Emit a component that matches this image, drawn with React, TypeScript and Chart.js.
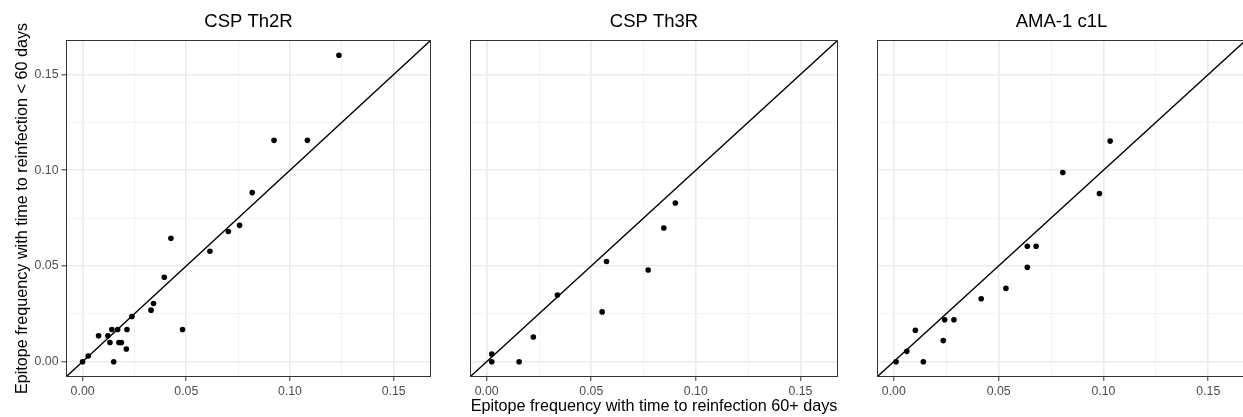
import React, { useEffect, useRef } from "react";
import { Chart, registerables } from "chart.js";

Chart.register(...registerables);

// ---------- data ----------
const PANEL_TITLES = ["CSP Th2R", "CSP Th3R", "AMA-1 c1L"];

const th2rX = [0.1236, 0.0923, 0.1084, 0.0818, 0.0757, 0.0703, 0.0614, 0.0426, 0.0394, 0.0342, 0.033, 0.0238, 0.0482, 0.0214, 0.0169, 0.0141, 0.0077, 0.0122, 0.0132, 0.0175, 0.0187, 0.0211, 0.015, 0.0027, 0.0];
const th2rY = [0.16, 0.1156, 0.1156, 0.0883, 0.0712, 0.068, 0.0577, 0.0645, 0.0441, 0.0304, 0.0269, 0.0236, 0.0168, 0.0168, 0.0168, 0.0168, 0.0135, 0.0135, 0.01, 0.01, 0.01, 0.0066, 0.0, 0.003, 0.0];

const th3rX = [0.0024, 0.0024, 0.0155, 0.0223, 0.0338, 0.0552, 0.0573, 0.0772, 0.0847, 0.0902];
const th3rY = [0.004, 0.0, 0.0, 0.0129, 0.0348, 0.026, 0.0523, 0.0479, 0.0698, 0.0829];

const ama1X = [0.0011, 0.0062, 0.0103, 0.0141, 0.0236, 0.0243, 0.0287, 0.0417, 0.0535, 0.0637, 0.0637, 0.0679, 0.0806, 0.0981, 0.1032];
const ama1Y = [0.0, 0.0054, 0.0164, 0.0, 0.011, 0.0219, 0.0219, 0.0329, 0.0383, 0.0493, 0.0603, 0.0603, 0.0988, 0.0878, 0.1152];

const MAJOR_TICKS = [0, 0.05, 0.1, 0.15];
const MINOR_TICKS = [0.025, 0.075, 0.125];
const AXIS_MIN = -0.008;
const AXIS_MAX = 0.168;
const IDENTITY_LINE = [AXIS_MIN, AXIS_MAX];

const X_TITLE = "Epitope frequency with time to reinfection 60+ days";
const Y_TITLE = "Epitope frequency with time to reinfection < 60 days";

// ---------- styling / layout ----------
const FONT = "'Liberation Sans', Arial, Helvetica, sans-serif";
const W = 1243;
const H = 417;
const TOP = 40;
const X_AXIS_H = 40;

const PANELS = [
  { title: PANEL_TITLES[0], xs: th2rX, ys: th2rY, left: 0, width: 440, padL: 0, yW: 66, padR: 9, yAxis: true, xTitle: false },
  { title: PANEL_TITLES[1], xs: th3rX, ys: th3rY, left: 440, width: 420, padL: 30, yW: 0, padR: 22, yAxis: false, xTitle: true },
  { title: PANEL_TITLES[2], xs: ama1X, ys: ama1Y, left: 860, width: 400, padL: 17, yW: 0, padR: 14, yAxis: false, xTitle: false },
];

const ALL_TICKS = [...MAJOR_TICKS, ...MINOR_TICKS].sort((a, b) => a - b);
const isMajor = (v: number) => MAJOR_TICKS.some((m) => Math.abs(m - v) < 1e-9);

const decorPlugin = {
  id: "panelDecor",
  afterDraw(chart: any, _args: any, opts: any) {
    const { ctx, chartArea: a } = chart;
    ctx.save();
    ctx.strokeStyle = "#333333";
    ctx.lineWidth = 1;
    const l = Math.round(a.left) + 0.5;
    const t = Math.round(a.top) + 0.5;
    const r = Math.round(a.right) - 0.5;
    const b = Math.round(a.bottom) - 0.5;
    ctx.strokeRect(l, t, r - l, b - t);

    ctx.fillStyle = "#000000";
    ctx.textAlign = "center";
    ctx.textBaseline = "middle";
    ctx.font = `18.5px ${FONT}`;
    ctx.fillText(opts.title, (a.left + a.right) / 2, 22);

    ctx.font = `16.2px ${FONT}`;
    if (opts.xTitle) {
      ctx.fillText(X_TITLE, (a.left + a.right) / 2, 407);
    }
    if (opts.yTitle) {
      ctx.translate(23, (a.top + a.bottom) / 2);
      ctx.rotate(-Math.PI / 2);
      ctx.fillText(Y_TITLE, 0, 0);
    }
    ctx.restore();
  },
};

function Panel({ p }: { p: (typeof PANELS)[number] }) {
  const ref = useRef<HTMLCanvasElement | null>(null);
  useEffect(() => {
    if (!ref.current) return;
    const points = p.xs.map((x, i) => ({ x, y: p.ys[i] }));
    const line = IDENTITY_LINE.map((v) => ({ x: v, y: v }));
    const gridColor = (c: any) => (c.tick && isMajor(c.tick.value) ? "#ebebeb" : "#f3f3f3");
    const gridWidth = (c: any) => (c.tick && isMajor(c.tick.value) ? 1.6 : 1);
    const tickColor = (c: any) => (c.tick && isMajor(c.tick.value) ? "#333333" : "rgba(0,0,0,0)");
    const tickFont = { family: FONT, size: 12.3 };
    const chart = new Chart(ref.current, {
      type: "scatter",
      data: {
        datasets: [
          {
            data: points,
            backgroundColor: "#000000",
            borderWidth: 0,
            pointRadius: 2.8,
            order: 0,
          },
          {
            type: "line",
            data: line,
            borderColor: "#000000",
            borderWidth: 1.3,
            pointRadius: 0,
            showLine: true,
            fill: false,
            order: 1,
          } as any,
        ],
      },
      options: {
        responsive: false,
        animation: false,
        events: [],
        layout: { padding: { top: TOP, left: p.padL, right: p.padR, bottom: 0 } },
        plugins: {
          legend: { display: false },
          tooltip: { enabled: false },
          panelDecor: { title: p.title, xTitle: p.xTitle, yTitle: p.yAxis },
        } as any,
        scales: {
          x: {
            type: "linear",
            min: AXIS_MIN,
            max: AXIS_MAX,
            afterBuildTicks: (s: any) => {
              s.ticks = ALL_TICKS.map((v) => ({ value: v }));
            },
            afterFit: (s: any) => {
              s.height = X_AXIS_H;
            },
            border: { display: false },
            grid: { color: gridColor, lineWidth: gridWidth, tickColor, tickLength: 4, tickWidth: 1 },
            ticks: {
              autoSkip: false,
              maxRotation: 0,
              padding: 3,
              color: "#4d4d4d",
              font: tickFont,
              callback: (v: any) => (isMajor(Number(v)) ? Number(v).toFixed(2) : ""),
            },
          },
          y: {
            type: "linear",
            min: AXIS_MIN,
            max: AXIS_MAX,
            afterBuildTicks: (s: any) => {
              s.ticks = ALL_TICKS.map((v) => ({ value: v }));
            },
            afterFit: (s: any) => {
              s.width = p.yW;
            },
            border: { display: false },
            grid: { color: gridColor, lineWidth: gridWidth, tickColor, tickLength: 4.5, tickWidth: 1, drawTicks: p.yAxis },
            ticks: {
              display: p.yAxis,
              autoSkip: false,
              padding: 3,
              color: "#4d4d4d",
              font: tickFont,
              callback: (v: any) => (isMajor(Number(v)) ? Number(v).toFixed(2) : ""),
            },
          },
        },
      },
      plugins: [decorPlugin],
    });
    return () => chart.destroy();
  }, [p]);
  return (
    <canvas
      ref={ref}
      width={p.width}
      height={H}
      style={{ position: "absolute", left: p.left, top: 0, width: p.width, height: H }}
    />
  );
}

export default function App() {
  return (
    <div
      style={{
        position: "absolute",
        left: 0,
        top: 0,
        width: W,
        height: H,
        overflow: "hidden",
        background: "#ffffff",
      }}
    >
      {PANELS.map((p) => (
        <Panel key={p.title} p={p} />
      ))}
    </div>
  );
}
